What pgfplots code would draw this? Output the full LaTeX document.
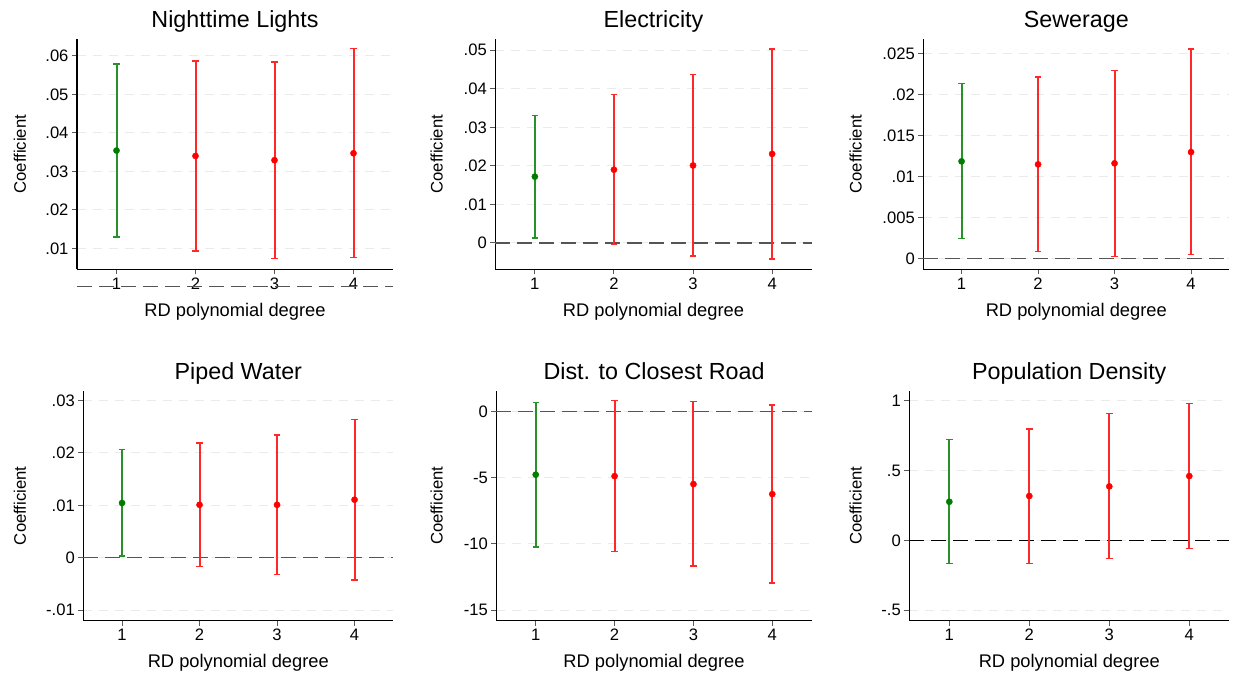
\documentclass[border=0pt]{standalone}
\usepackage{pgfplots}
\pgfplotsset{compat=1.18}
\usepackage{fontspec}
\setmainfont{Liberation Sans}
\definecolor{sgreen}{RGB}{0,125,0}
\definecolor{sgreenl}{RGB}{40,145,40}
\definecolor{sred}{RGB}{255,0,0}
\definecolor{sredl}{RGB}{255,40,40}
\definecolor{gridc}{RGB}{234,234,234}
\definecolor{zeroc}{RGB}{85,85,85}
\pgfplotsset{
 panel/.style={
  scale only axis, anchor=south west,
  xmin=0.5, xmax=4.5,
  axis x line*=bottom, axis y line*=left,
  x axis line style={-}, y axis line style={-},
  axis line style={line width=1.2pt, black},
  xtick={1,2,3,4}, xticklabels={1,2,3,4},
  scaled y ticks=false,
  tick align=outside, major tick length=5pt,
  tick style={line width=1pt, gray!70!black},
  ticklabel style={font=\fontsize{16.6pt}{19pt}\selectfont},
  ymajorgrids, grid style={gridc, line width=1pt, dash pattern=on 9pt off 7pt},
  title style={at={(axis description cs:0.5,1)}, anchor=base, yshift=5.3pt, font=\fontsize{23.3pt}{28pt}\selectfont},
  xlabel={RD polynomial degree},
  xlabel style={at={(axis description cs:0.5,0)}, anchor=base, yshift=-47pt, font=\fontsize{18.3pt}{22pt}\selectfont},
  ylabel={Coefficient},
  ylabel style={at={(axis description cs:0,0.5)}, anchor=center, font=\fontsize{16.7pt}{20pt}\selectfont},
  clip=false,
 },
 zero/.style={zeroc, line width=1.3pt, dash pattern=on 15pt off 7pt, forget plot},
}
% CI whisker: line colour, marker colour, x, point, lo, hi
\newcommand\ci[6]{%
 \addplot[#1, line width=2pt, no marks] coordinates {(#3,#5) (#3,#6)};
 \addplot[#1, only marks, mark=-, mark size=3.2pt, mark options={line width=1.5pt}] coordinates {(#3,#5) (#3,#6)};
 \addplot[#2, only marks, mark=*, mark size=3.1pt] coordinates {(#3,#4)};}
\newcommand\gci[4]{\ci{sgreenl}{sgreen}{#1}{#2}{#3}{#4}}
\newcommand\rci[4]{\ci{sredl}{sred}{#1}{#2}{#3}{#4}}
\begin{document}
\begin{tikzpicture}
% Panel 1
\begin{axis}[panel, at={(77pt,407.7pt)}, width=316pt, height=230.3pt,
  ymin=0.00454, ymax=0.0644,
  ytick={0.01,0.02,0.03,0.04,0.05,0.06}, yticklabels={.01,.02,.03,.04,.05,.06},
  ylabel style={yshift=57pt}, title={Nighttime Lights}]
\addplot[zero] coordinates {(0.5,0) (4.5,0)};
\gci{1}{0.0354}{0.01295}{0.0579}
\rci{2}{0.0340}{0.0093}{0.0587}
\rci{3}{0.0329}{0.0073}{0.0584}
\rci{4}{0.0347}{0.0076}{0.0619}
\end{axis}
% Panel 2
\begin{axis}[panel, at={(495.3pt,407.7pt)}, width=316.4pt, height=230.3pt,
  ymin=-0.00683, ymax=0.0529,
  ytick={0,0.01,0.02,0.03,0.04,0.05}, yticklabels={0,.01,.02,.03,.04,.05},
  ylabel style={yshift=58.7pt}, title={Electricity}]
\addplot[zero] coordinates {(0.5,0) (4.5,0)};
\gci{1}{0.0172}{0.0013}{0.0330}
\rci{2}{0.0190}{-0.0004}{0.0385}
\rci{3}{0.0201}{-0.0034}{0.0437}
\rci{4}{0.0231}{-0.0041}{0.0503}
\end{axis}
% Panel 3
\begin{axis}[panel, at={(923.3pt,407.7pt)}, width=306pt, height=230.3pt,
  ymin=-0.0013, ymax=0.0268,
  ytick={0,0.005,0.01,0.015,0.02,0.025}, yticklabels={0,.005,.01,.015,.02,.025},
  ylabel style={yshift=67.7pt}, title={Sewerage}]
\addplot[zero] coordinates {(0.5,0) (4.5,0)};
\gci{1}{0.01187}{0.00244}{0.02134}
\rci{2}{0.0115}{0.00085}{0.02215}
\rci{3}{0.01163}{0.00028}{0.02297}
\rci{4}{0.0130}{0.00049}{0.02557}
\end{axis}
% Panel 4
\begin{axis}[panel, at={(83.3pt,56.3pt)}, width=310pt, height=230pt,
  ymin=-0.01204, ymax=0.0319,
  ytick={-0.01,0,0.01,0.02,0.03}, yticklabels={-.01,0,.01,.02,.03},
  ylabel style={yshift=63.3pt}, title={Piped Water}]
\addplot[zero] coordinates {(0.5,0) (4.5,0)};
\gci{1}{0.01045}{0.0003}{0.02064}
\rci{2}{0.0101}{-0.00166}{0.0219}
\rci{3}{0.0101}{-0.00325}{0.02344}
\rci{4}{0.01108}{-0.00427}{0.02643}
\end{axis}
% Panel 5
\begin{axis}[panel, at={(496.3pt,56.3pt)}, width=315.4pt, height=230pt,
  ymin=-15.8, ymax=1.59,
  ytick={-15,-10,-5,0}, yticklabels={-15,-10,-5,0},
  ylabel style={yshift=59.7pt}, title={Dist. to Closest Road}]
\addplot[zero] coordinates {(0.5,0) (4.5,0)};
\gci{1}{-4.76}{-10.23}{0.71}
\rci{2}{-4.87}{-10.56}{0.83}
\rci{3}{-5.47}{-11.65}{0.76}
\rci{4}{-6.23}{-12.96}{0.50}
\end{axis}
% Panel 6
\begin{axis}[panel, at={(909.3pt,56.3pt)}, width=320pt, height=230pt,
  ymin=-0.576, ymax=1.0716,
  ytick={-0.5,0,0.5,1}, yticklabels={-.5,0,.5,1},
  ylabel style={yshift=53.7pt}, title={Population Density}]
\addplot[zero, black] coordinates {(0.5,0) (4.5,0)};
\gci{1}{0.276}{-0.168}{0.7206}
\rci{2}{0.317}{-0.166}{0.799}
\rci{3}{0.386}{-0.132}{0.907}
\rci{4}{0.460}{-0.060}{0.981}
\end{axis}
\pgfresetboundingbox
\path (0pt,0pt) rectangle (1233pt,677pt);
\end{tikzpicture}
\end{document}
